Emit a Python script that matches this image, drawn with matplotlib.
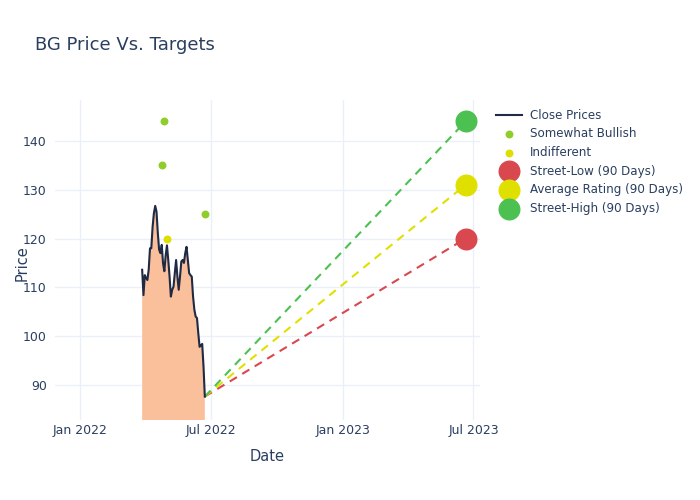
import pandas as pd
import matplotlib.pyplot as plt
import matplotlib.dates as mdates

# Close prices (late Mar 2022 - late Jun 2022)
close_prices = [113.6, 108.4, 112.5, 111.9, 111.5, 113.6, 118.0, 118.0, 122.4, 125.2,
                126.7, 125.5, 121.1, 117.7, 117.0, 118.7, 114.9, 113.3, 116.5, 118.6,
                115.6, 112.2, 108.1, 109.5, 110.1, 112.9, 115.6, 112.2, 109.5, 112.2,
                115.3, 115.6, 115.0, 117.0, 118.3, 115.6, 112.9, 112.5, 112.2, 108.1,
                105.4, 104.0, 103.7, 100.6, 97.8, 98.1, 98.4, 93.8, 87.6]
price_start = "2022-03-28"
price_end = "2022-06-23"

bullish_dates = ["2022-04-24", "2022-04-27", "2022-06-23"]
bullish_values = [135, 144, 125]
indiff_dates = ["2022-05-01"]
indiff_values = [120]

target_date = "2023-06-20"
target_labels = ["Street-Low (90 Days)", "Average Rating (90 Days)", "Street-High (90 Days)"]
target_values = [120, 131, 144]
target_colors = ["#d9474f", "#e0e000", "#4cc152"]

text_color = "#2a3f5f"
grid_color = "#ebf0f8"

dates = pd.date_range(price_start, price_end, periods=len(close_prices))
last_date = dates[-1]
last_price = close_prices[-1]

fig = plt.figure(figsize=(7, 5), dpi=100)
ax = fig.add_axes([0.0786, 0.16, 0.607, 0.64])

ax.fill_between(dates, close_prices, 0, color="#f9c09b", lw=0)
ax.plot(dates, close_prices, color="#1f2a44", lw=1.5, label="Close Prices", zorder=3)

ax.scatter(pd.to_datetime(bullish_dates), bullish_values, s=22, color="#8fce2a",
           label="Somewhat Bullish", zorder=4)
ax.scatter(pd.to_datetime(indiff_dates), indiff_values, s=22, color="#dede00",
           label="Indifferent", zorder=4)

for lbl, val, col in zip(target_labels, target_values, target_colors):
    ax.plot([last_date, pd.to_datetime(target_date)], [last_price, val], color=col,
            ls=(0, (4, 3)), lw=1.5, zorder=2)
    ax.scatter([pd.to_datetime(target_date)], [val], s=220, color=col, label=lbl, zorder=5)

ax.set_xlim(pd.to_datetime("2021-11-27"), pd.to_datetime("2023-07-10"))
ax.set_ylim(82.8, 148.4)
ax.set_yticks([90, 100, 110, 120, 130, 140])
ax.xaxis.set_major_locator(mdates.MonthLocator(bymonth=[1, 7]))
ax.xaxis.set_major_formatter(mdates.DateFormatter("%b %Y"))

ax.grid(True, color=grid_color, lw=1)
ax.set_axisbelow(True)
for s in ax.spines.values():
    s.set_visible(False)
ax.tick_params(axis="y", length=0, colors=text_color, labelsize=9, pad=6)
ax.tick_params(axis="x", length=0, colors=text_color, labelsize=9, pad=3)

ax.set_xlabel("Date", color=text_color, fontsize=10.5)
ax.xaxis.set_label_coords(0.5, -0.09)
ax.set_ylabel("Price", color=text_color, fontsize=10.5)
ax.yaxis.set_label_coords(-0.06, 0.49)
fig.text(0.05, 0.91, "BG Price Vs. Targets", color=text_color, fontsize=13, va="center")

leg = ax.legend(loc="upper left", bbox_to_anchor=(0.702, 0.792), bbox_transform=fig.transFigure,
                frameon=False, fontsize=8.6, labelspacing=0.47, handlelength=2.2,
                handletextpad=0.6, borderaxespad=0)
for t in leg.get_texts():
    t.set_color(text_color)

plt.savefig("out.png")
